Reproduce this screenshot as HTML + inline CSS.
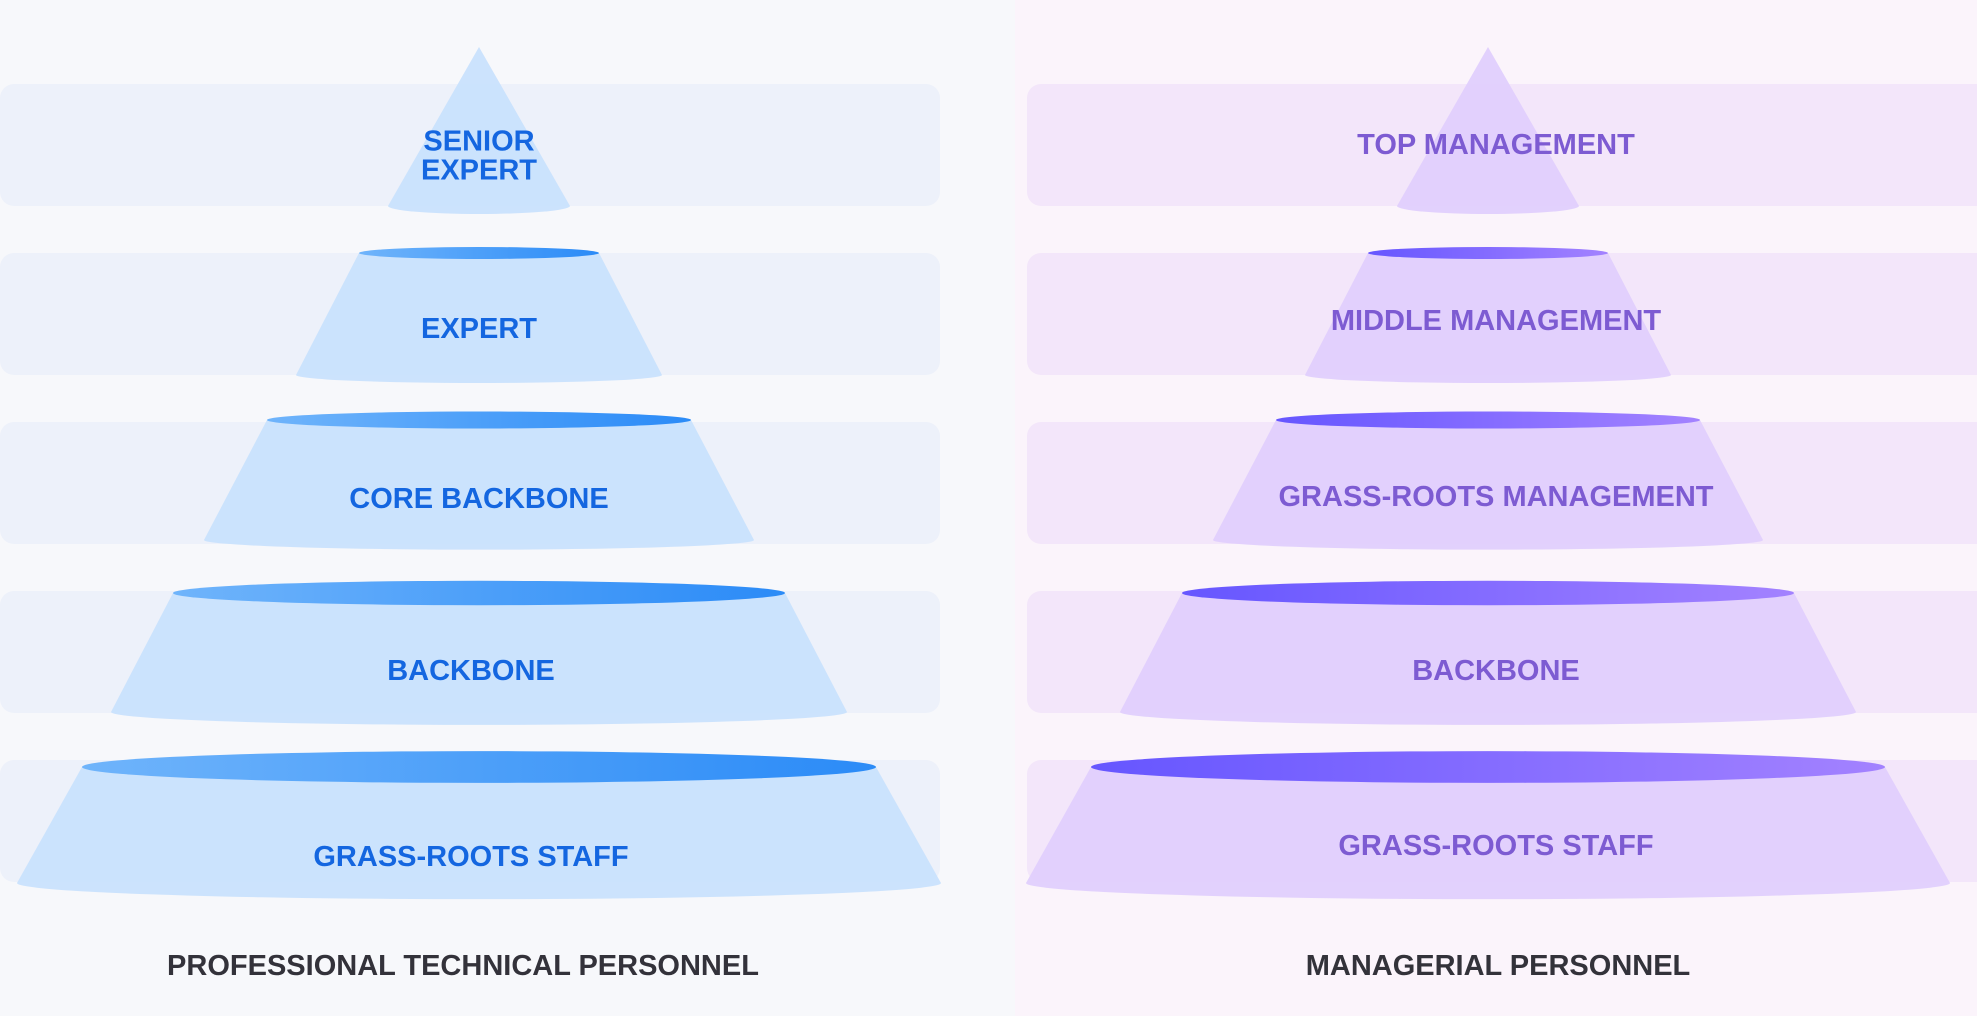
<!DOCTYPE html>
<html><head><meta charset="utf-8"><style>
html,body{margin:0;padding:0;width:1977px;height:1016px;overflow:hidden;background:#f8f8fb}
svg{display:block}
text{font-family:"Liberation Sans",sans-serif;font-weight:bold}
</style></head><body>
<svg id="chart" width="1977" height="1016" viewBox="0 0 1977 1016" xmlns="http://www.w3.org/2000/svg">
<defs>
<linearGradient id="gBlue" x1="0" x2="1"><stop offset="0" stop-color="#6fb4fb"/><stop offset="1" stop-color="#2b8bf7"/></linearGradient>
<linearGradient id="gPurple" x1="0" x2="1"><stop offset="0" stop-color="#6656ff"/><stop offset="1" stop-color="#a382ff"/></linearGradient>
</defs>
<rect x="0" y="0" width="1015" height="1016" fill="#f7f8fb"/>
<rect x="1015" y="0" width="962" height="1016" fill="#fbf4fb"/>
<g id="layer"></g>
</svg>
<script>
const leftLabels=[["SENIOR","EXPERT"],["EXPERT"],["CORE BACKBONE"],["BACKBONE"],["GRASS-ROOTS STAFF"]];
const rightLabels=[["TOP MANAGEMENT"],["MIDDLE MANAGEMENT"],["GRASS-ROOTS MANAGEMENT"],["BACKBONE"],["GRASS-ROOTS STAFF"]];
const tierTopWidth=[0,240,424,612,794];
const tierBottomWidth=[182,366,550,736,924];
const titles=["PROFESSIONAL TECHNICAL PERSONNEL","MANAGERIAL PERSONNEL"];
const bandTop=[84,253,422,591,760], bandH=122;
const tierTopY=[47,253,420,593,767], tierBotY=[206,375,540,712,883];
const ns="http://www.w3.org/2000/svg", layer=document.getElementById('layer');
function mk(t,a){const e=document.createElementNS(ns,t);for(const k in a)e.setAttribute(k,a[k]);layer.appendChild(e);return e;}
const panels=[
 {cx:479,bx:0,bw:940,band:"#edf1fa",fill:"#c9e2fd",ell:"url(#gBlue)",txt:"#1466e0",labels:leftLabels,ly:[155,328,498,670,856],title:titles[0],tx:463,side:"left"},
 {cx:1488,bx:1027,bw:970,band:"#f3e6fa",fill:"#e0cffd",ell:"url(#gPurple)",txt:"#7d5bd2",labels:rightLabels,ly:[144,320,496,670,845],title:titles[1],tx:1498,side:"right"}];
panels.forEach(p=>{
 bandTop.forEach((y,i)=>{
  const r=mk('rect',{x:p.bx,y:y,width:p.bw,height:bandH,rx:14,fill:p.band});
  
  
 });
 for(let i=0;i<5;i++){
  const th=tierTopWidth[i]/2, bh=tierBottomWidth[i]/2, ty=tierTopY[i], by=tierBotY[i];
  const ry=Math.max(6,th*0.04), bry=Math.max(8,bh*0.035);
  const d=`M${p.cx-th},${ty} L${p.cx+th},${ty} L${p.cx+bh},${by} A${bh},${bry} 0 0 1 ${p.cx-bh},${by} Z`;
  const s=mk('path',{d:d,fill:p.fill,opacity:0.95});
  
  
  if(th>0){
   const e=mk('ellipse',{cx:p.cx,cy:ty,rx:th,ry:ry,fill:p.ell});
   
   
  }
  const lines=p.labels[i];
  lines.forEach((ln,j)=>{
   const t=mk('text',{x:p.cx+(i>=3&&p.side=="left"?-8:(p.side=="right"?8:0)),y:p.ly[i]+(j-(lines.length-1)/2)*29+10,'text-anchor':'middle','font-size':29,fill:p.txt});
   t.textContent=ln;
   
   
  });
 }
 const tt=mk('text',{x:p.tx,y:975,'text-anchor':'middle','font-size':29,fill:'#33323a'});
 tt.textContent=p.title;
 
 
});
</script>
</body></html>
